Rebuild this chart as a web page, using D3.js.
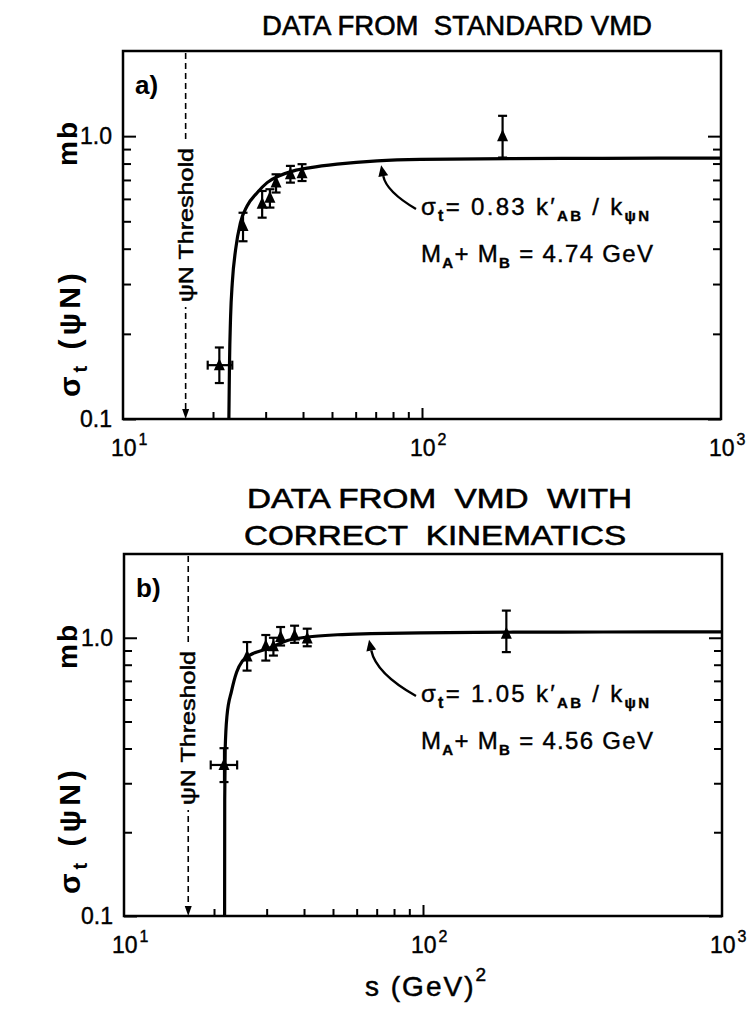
<!DOCTYPE html>
<html lang="en">
    <head>
        <meta charset="utf-8">
        <title>psiN cross section</title>
        <script src="https://cdn.jsdelivr.net/npm/d3@7"></script>
    </head>

    <body style="margin: 0px; background: white">
        <script type="text/javascript">

            // panel a) - data from standard VMD
            var sA      = [21.0, 25.2, 29.2, 31.0, 32.5, 36.3, 39.7, 186];
            var sigA    = [0.155, 0.481, 0.577, 0.606, 0.685, 0.733, 0.739, 1.00];
            var sigAHi  = [0.179, 0.536, 0.640, 0.649, 0.733, 0.785, 0.796, 1.18];
            var sigALo  = [0.134, 0.425, 0.515, 0.559, 0.632, 0.685, 0.694, 0.840];
            var sALo    = [19.2, null, null, null, null, null, null, null];
            var sAHi    = [23.2, null, null, null, null, null, null, null];
            var curveSA = [22.6, 22.7, 22.9, 23.2, 23.8, 24.7, 26.0, 28.1, 30.35, 33.2, 37.2, 42.4, 52.0, 70.8, 98.9, 200, 400, 1000];
            var curveA  = [0.1, 0.153, 0.230, 0.303, 0.397, 0.494, 0.566, 0.631, 0.685, 0.723, 0.754, 0.774, 0.796, 0.818, 0.828, 0.833, 0.835, 0.836];
            var threshA = 16.2;

            // panel b) - data from VMD with correct kinematics
            var sB      = [21.6, 25.8, 29.8, 31.6, 33.4, 37.2, 41.0, 190];
            var sigB    = [0.349, 0.857, 0.935, 0.932, 1.006, 1.019, 0.994, 1.034];
            var sigBHi  = [0.401, 0.965, 1.023, 1.000, 1.093, 1.105, 1.078, 1.252];
            var sigBLo  = [0.303, 0.762, 0.828, 0.863, 0.938, 0.959, 0.932, 0.888];
            var sBLo    = [19.5, null, null, null, null, null, null, null];
            var sBHi    = [23.9, null, null, null, null, null, null, null];
            var curveSB = [21.7, 21.72, 21.8, 22.1, 22.9, 23.8, 24.9, 26.9, 30.2, 35.2, 41.1, 51.8, 67.0, 98.4, 200, 400, 1000];
            var curveB  = [0.1, 0.262, 0.398, 0.524, 0.644, 0.752, 0.826, 0.876, 0.913, 0.978, 1.006, 1.025, 1.034, 1.042, 1.047, 1.049, 1.05];
            var threshB = 16.4;

            // ticks
            var yMinor = [0.2, 0.3, 0.4, 0.5, 0.6, 0.7, 0.8, 0.9];
            var yMajor = [0.1, 1.0];
            var xMinor = [20, 30, 40, 50, 60, 70, 80, 90];
            var xMajor = [100];
            var xLabels = [10, 100, 1000];

            var width = 749;
            var height = 1014;
            var font = "Liberation Sans, Arial, sans-serif";

            var svg = d3.select("body")
                .append("svg")
                .attr("width", width)
                .attr("height", height);

            svg.append("rect")
                .attr("width", width)
                .attr("height", height)
                .attr("fill", "white");

            var panelA = {left: 123, right: 721, top: 51, bottom: 419,
                letter: "a)", coef: "0.83", mass: "4.74",
                title: [{t: "DATA FROM  STANDARD VMD", y: 35, x0: 262, x1: 652}],
                arrowS: 73, noteY: 215, threshText: 225};
            var panelB = {left: 124, right: 722, top: 554, bottom: 916,
                letter: "b)", coef: "1.05", mass: "4.56",
                title: [{t: "DATA FROM  VMD  WITH", y: 508, x0: 247, x1: 632},
                        {t: "CORRECT  KINEMATICS", y: 545, x0: 244, x1: 626}],
                arrowS: 66, noteY: 702, threshText: 728};

            drawPanel(panelA, sA, sigA, sigAHi, sigALo, sALo, sAHi, curveSA, curveA, threshA);
            drawPanel(panelB, sB, sigB, sigBHi, sigBLo, sBLo, sBHi, curveSB, curveB, threshB);

            // x axis title
            var xt = svg.append("text")
                .attr("x", 365)
                .attr("y", 996)
                .attr("font-family", font)
                .attr("stroke", "black")
                .attr("stroke-width", 0.5)
                .style("font-size", "28px");
            xt.append("tspan").style("letter-spacing", "2px").text("s (GeV)");
            xt.append("tspan").attr("dy", -15).style("font-size", "19px").text("2");

            function drawPanel(p, s, sig, hi, lo, sLo, sHi, cs, cv, th){
                var x = d3.scaleLog().domain([10, 1000]).range([p.left, p.right]);
                var y = d3.scaleLog().domain([0.1, 2.0]).range([p.bottom, p.top]);
                var g = svg.append("g");

                // titles
                p.title.forEach(function(t){
                    g.append("text")
                        .attr("x", t.x0)
                        .attr("y", t.y)
                        .attr("textLength", t.x1 - t.x0)
                        .attr("lengthAdjust", "spacingAndGlyphs")
                        .attr("font-family", font)
                        .attr("stroke", "black")
                        .attr("stroke-width", 0.6)
                        .style("font-size", "28px")
                        .style("white-space", "pre")
                        .text(t.t);
                });

                // axes, ticks pointing inward
                g.append("g").attr("transform", "translate(" + p.left + ",0)")
                    .call(d3.axisLeft(y).tickValues(yMinor).tickSize(-8).tickFormat(""));
                g.append("g").attr("transform", "translate(" + p.left + ",0)")
                    .call(d3.axisLeft(y).tickValues(yMajor).tickSize(-13).tickPadding(11)
                        .tickFormat(d3.format(".1f")));
                g.append("g").attr("transform", "translate(" + p.right + ",0)")
                    .call(d3.axisRight(y).tickValues(yMinor).tickSize(-8).tickFormat(""));
                g.append("g").attr("transform", "translate(" + p.right + ",0)")
                    .call(d3.axisRight(y).tickValues(yMajor).tickSize(-13).tickFormat(""));
                g.append("g").attr("transform", "translate(0," + p.bottom + ")")
                    .call(d3.axisBottom(x).tickValues(xMinor).tickSize(-7).tickFormat(""));
                g.append("g").attr("transform", "translate(0," + p.bottom + ")")
                    .call(d3.axisBottom(x).tickValues(xMajor).tickSize(-11).tickFormat(""));

                g.selectAll(".domain").remove();
                g.selectAll(".tick line").attr("stroke", "black").attr("stroke-width", 2);
                g.selectAll(".tick text")
                    .attr("font-family", font)
                    .attr("stroke", "black")
                    .attr("stroke-width", 0.4)
                    .style("font-size", "23px")
                    .attr("fill", "black");

                // 10^n labels
                xLabels.forEach(function(v){
                    var t = g.append("text")
                        .attr("x", x(v) - 12)
                        .attr("y", p.bottom + 37)
                        .attr("font-family", font)
                        .attr("stroke", "black")
                        .attr("stroke-width", 0.4)
                        .style("font-size", "23px");
                    t.append("tspan").text("10");
                    t.append("tspan").attr("dx", 2).attr("dy", -11).style("font-size", "16px")
                        .text(Math.round(Math.log10(v)));
                });

                // frame
                g.append("rect")
                    .attr("x", p.left)
                    .attr("y", p.top)
                    .attr("width", p.right - p.left)
                    .attr("height", p.bottom - p.top)
                    .attr("fill", "none")
                    .attr("stroke", "black")
                    .attr("stroke-width", 2.5);

                // panel letter
                g.append("text")
                    .attr("x", p.left + 12)
                    .attr("y", p.top + 43)
                    .attr("font-family", font)
                    .attr("font-weight", "bold")
                    .style("font-size", "26px")
                    .text(p.letter);

                // y label
                var yl = g.append("text")
                    .attr("transform", "translate(80," + (p.bottom - 22) + ") rotate(-90)")
                    .attr("font-family", font)
                    .attr("font-weight", "bold")
                    .style("letter-spacing", "4px")
                    .style("font-size", "30px");
                yl.append("tspan").text("σ");
                yl.append("tspan").attr("dy", 7).style("font-size", "20px").text("t");
                yl.append("tspan").attr("dy", -7).text(" (ψN)");
                g.append("text")
                    .attr("transform", "translate(77," + (p.top + 92) + ") rotate(-90)")
                    .attr("text-anchor", "middle")
                    .attr("font-family", font)
                    .attr("font-weight", "bold")
                    .style("letter-spacing", "2px")
                    .style("font-size", "28px")
                    .text("mb");

                // threshold line
                var tx = x(th);
                g.append("line")
                    .attr("x1", tx).attr("x2", tx)
                    .attr("y1", p.top + 2).attr("y2", p.bottom - 8)
                    .attr("stroke", "black")
                    .attr("stroke-width", 1.6)
                    .attr("stroke-dasharray", "6,4");
                g.append("path")
                    .attr("d", "M" + (tx - 3.5) + "," + (p.bottom - 10) + "L" + (tx + 3.5) + "," + (p.bottom - 10) + "L" + tx + "," + p.bottom + "Z")
                    .attr("fill", "black");
                g.append("rect")
                    .attr("x", tx - 10)
                    .attr("y", p.threshText - 82)
                    .attr("width", 20)
                    .attr("height", 164)
                    .attr("fill", "white");
                g.append("text")
                    .attr("transform", "translate(" + (tx + 7) + "," + p.threshText + ") rotate(-90)")
                    .attr("text-anchor", "middle")
                    .attr("textLength", 154)
                    .attr("lengthAdjust", "spacingAndGlyphs")
                    .attr("font-family", font)
                    .attr("stroke", "black")
                    .attr("stroke-width", 0.5)
                    .style("font-size", "21px")
                    .text("ψN Threshold");

                // theory curve
                var line = d3.line()
                    .x(function(d){ return x(d[0]); })
                    .y(function(d){ return y(d[1]); })
                    .curve(d3.curveMonotoneX);
                g.append("path")
                    .datum(d3.zip(cs, cv))
                    .attr("d", line)
                    .attr("fill", "none")
                    .attr("stroke", "black")
                    .attr("stroke-width", 3.2);

                // data points with error bars
                for (var i = 0; i < s.length; i++){
                    var px = x(s[i]), py = y(sig[i]);
                    var yh = y(hi[i]), ylo = y(lo[i]);
                    var pts = g.append("g").attr("stroke", "black").attr("stroke-width", 2.2);
                    pts.append("line").attr("x1", px).attr("x2", px).attr("y1", yh).attr("y2", ylo);
                    pts.append("line").attr("x1", px - 4.5).attr("x2", px + 4.5).attr("y1", yh).attr("y2", yh);
                    pts.append("line").attr("x1", px - 4.5).attr("x2", px + 4.5).attr("y1", ylo).attr("y2", ylo);
                    if (sLo[i] != null){
                        var xl = x(sLo[i]), xh = x(sHi[i]);
                        pts.append("line").attr("x1", xl).attr("x2", xh).attr("y1", py).attr("y2", py);
                        pts.append("line").attr("x1", xl).attr("x2", xl).attr("y1", py - 4.5).attr("y2", py + 4.5);
                        pts.append("line").attr("x1", xh).attr("x2", xh).attr("y1", py - 4.5).attr("y2", py + 4.5);
                    }
                    g.append("path")
                        .attr("d", "M" + px + "," + (py - 7) + "L" + (px + 5.5) + "," + (py + 5) + "L" + (px - 5.5) + "," + (py + 5) + "Z")
                        .attr("fill", "black");
                }

                // annotation arrow: from the formula up to the curve
                var ax = x(p.arrowS);
                var ay = y(cv[d3.bisectLeft(cs, p.arrowS)]) + 6;
                var ex = 416, ey = p.noteY - 6;
                var cx = ax + 0.15 * (ex - ax), cy = ay + 0.6 * (ey - ay);
                var dx = ax - cx, dy = ay - cy, dl = Math.sqrt(dx * dx + dy * dy);
                dx /= dl; dy /= dl;
                var bx = ax - dx * 11, by = ay - dy * 11;
                g.append("path")
                    .attr("d", "M" + ex + "," + ey + "Q" + cx + "," + cy + " " + bx + "," + by)
                    .attr("fill", "none")
                    .attr("stroke", "black")
                    .attr("stroke-width", 2.4);
                g.append("path")
                    .attr("d", "M" + ax + "," + ay +
                        "L" + (bx - dy * 5) + "," + (by + dx * 5) +
                        "L" + (bx + dy * 5) + "," + (by - dx * 5) + "Z")
                    .attr("fill", "black");

                var f = g.append("text")
                    .attr("x", 421)
                    .attr("y", p.noteY)
                    .attr("textLength", 228)
                    .attr("font-family", font)
                    .attr("stroke", "black")
                    .attr("stroke-width", 0.4)
                    .style("font-size", "24px");
                f.append("tspan").text("σ");
                f.append("tspan").attr("dy", 6).attr("font-weight", "bold").style("font-size", "16px").text("t");
                f.append("tspan").attr("dy", -6).text("= " + p.coef + " k");
                f.append("tspan").text("′");
                f.append("tspan").attr("dy", 6).attr("font-weight", "bold").style("font-size", "15px").text("AB");
                f.append("tspan").attr("dy", -6).text(" / k");
                f.append("tspan").attr("dy", 6).attr("font-weight", "bold").style("font-size", "15px").text("ψN");

                var m = g.append("text")
                    .attr("x", 421)
                    .attr("y", p.noteY + 47)
                    .attr("textLength", 232)
                    .attr("font-family", font)
                    .attr("stroke", "black")
                    .attr("stroke-width", 0.4)
                    .style("font-size", "24px");
                m.append("tspan").text("M");
                m.append("tspan").attr("dy", 6).attr("font-weight", "bold").style("font-size", "15px").text("A");
                m.append("tspan").attr("dy", -6).text("+ M");
                m.append("tspan").attr("dy", 6).attr("font-weight", "bold").style("font-size", "15px").text("B");
                m.append("tspan").attr("dy", -6).text(" = " + p.mass + " GeV");
            }
        </script>
    </body>
</html>
